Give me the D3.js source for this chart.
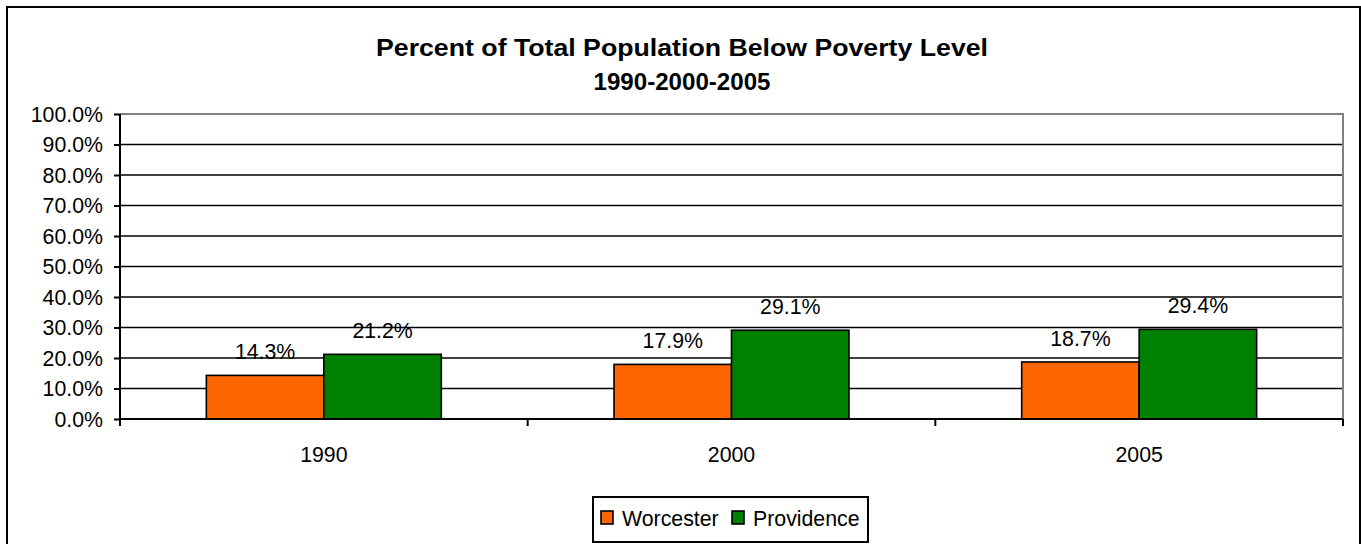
<!DOCTYPE html>
<html><head><meta charset="utf-8">
<script src="https://cdn.jsdelivr.net/npm/d3@7"></script>
<style>html,body{margin:0;padding:0;background:#fff;}svg{display:block;font-family:"Liberation Sans",Arial,sans-serif;}</style>
</head><body><svg id="c" width="1361" height="544"></svg>
<script>
const categories = ["1990", "2000", "2005"];
const seriesNames = ["Worcester", "Providence"];
const worcester = [14.3, 17.9, 18.7];
const providence = [21.2, 29.1, 29.4];
const yTicks = [0, 10, 20, 30, 40, 50, 60, 70, 80, 90, 100];
const colors = ["#FF6600", "#008000"];
const titleLines = ["Percent of Total Population Below Poverty Level", "1990-2000-2005"];

const FS = 21.3;
const svg = d3.select("#c");
const m = {left: 120, right: 1343, top: 114, bottom: 419};

svg.append("rect").attr("x", 7).attr("y", 7).attr("width", 1353).attr("height", 560)
  .attr("fill", "#fff").attr("stroke", "#000").attr("stroke-width", 2);

const x0 = d3.scaleBand().domain(categories).range([m.left, m.right]).paddingInner(0).paddingOuter(0);
const x1 = d3.scaleBand().domain(seriesNames).range([0, x0.bandwidth()]).paddingInner(0).paddingOuter(0.735);
const y = d3.scaleLinear().domain([0, 100]).range([m.bottom, m.top]);

// gridlines
svg.append("g").selectAll("line").data(yTicks.filter(t => t > 0 && t < 100)).join("line")
  .attr("x1", m.left).attr("x2", m.right).attr("y1", d => y(d)).attr("y2", d => y(d))
  .attr("stroke", "#000").attr("stroke-width", 1.6);
// plot border top/right gray
svg.append("path").attr("d", `M${m.left},${y(100)}H${m.right}V${m.bottom}`)
  .attr("fill", "none").attr("stroke", "#808080").attr("stroke-width", 2);

// y axis
const yAxis = d3.axisLeft(y).tickValues(yTicks).tickSize(6).tickPadding(10)
  .tickFormat(d => d3.format(".1f")(d) + "%");
const ga = svg.append("g").attr("transform", `translate(${m.left},0)`).call(yAxis);
ga.select(".domain").remove();
ga.selectAll(".tick line").attr("stroke", "#000").attr("stroke-width", 2);
ga.selectAll(".tick text").attr("font-size", FS).attr("fill", "#000")
  .attr("font-family", "Liberation Sans, Arial, sans-serif").attr("dx", -1).attr("dy", "0.34em");
svg.append("line").attr("x1", m.left).attr("x2", m.left).attr("y1", m.top).attr("y2", m.bottom + 7)
  .attr("stroke", "#000").attr("stroke-width", 2);

// bars
const data = categories.map((c, i) => ({cat: c, vals: [worcester[i], providence[i]]}));
const groups = svg.append("g").selectAll("g").data(data).join("g")
  .attr("transform", d => `translate(${x0(d.cat)},0)`);
groups.selectAll("rect").data(d => d.vals.map((v, j) => ({v, s: seriesNames[j], j}))).join("rect")
  .attr("x", d => x1(d.s)).attr("width", x1.bandwidth())
  .attr("y", d => y(d.v)).attr("height", d => y(0) - y(d.v))
  .attr("fill", d => colors[d.j]).attr("stroke", "#000").attr("stroke-width", 1.6);
groups.selectAll("text").data(d => d.vals.map((v, j) => ({v, s: seriesNames[j], j}))).join("text")
  .attr("x", d => x1(d.s) + x1.bandwidth() / 2).attr("y", d => y(d.v) - 16)
  .attr("text-anchor", "middle").attr("font-size", FS).attr("fill", "#000")
  .text(d => d3.format(".1f")(d.v) + "%");

// x axis
svg.append("line").attr("x1", m.left).attr("x2", m.right).attr("y1", m.bottom).attr("y2", m.bottom)
  .attr("stroke", "#000").attr("stroke-width", 2);
const xAxis = d3.axisBottom(x0).tickSize(0).tickPadding(0);
const gx = svg.append("g").attr("transform", `translate(0,${m.bottom})`).call(xAxis);
gx.select(".domain").remove();
gx.selectAll(".tick text").attr("y", 43).attr("dy", 0).attr("font-size", FS).attr("fill", "#000")
  .attr("font-family", "Liberation Sans, Arial, sans-serif");
const bounds = categories.map(c => x0(c)).concat([m.right]);
svg.append("g").selectAll("line").data(bounds).join("line")
  .attr("x1", d => d).attr("x2", d => d).attr("y1", m.bottom).attr("y2", m.bottom + 7)
  .attr("stroke", "#000").attr("stroke-width", 2);

// title
const titleWidths = [612, 177];
const titleBase = [56, 90];
svg.append("g").selectAll("text").data(titleLines).join("text")
  .attr("x", 682).attr("y", (d, i) => titleBase[i]).attr("text-anchor", "middle")
  .attr("font-size", 24.5).attr("font-weight", "bold").attr("fill", "#000")
  .attr("textLength", (d, i) => titleWidths[i]).attr("lengthAdjust", "spacingAndGlyphs")
  .text(d => d);

// legend
const lg = svg.append("g");
lg.append("rect").attr("x", 593).attr("y", 497).attr("width", 275).attr("height", 45)
  .attr("fill", "#fff").attr("stroke", "#000").attr("stroke-width", 2);
const legX = [601, 732];
seriesNames.forEach((s, i) => {
  lg.append("rect").attr("x", legX[i]).attr("y", 511).attr("width", 12).attr("height", 13)
    .attr("fill", colors[i]).attr("stroke", "#000").attr("stroke-width", 1.6);
  lg.append("text").attr("x", legX[i] + 21).attr("y", 526).attr("font-size", FS).attr("fill", "#000").text(s);
});
</script></body></html>
